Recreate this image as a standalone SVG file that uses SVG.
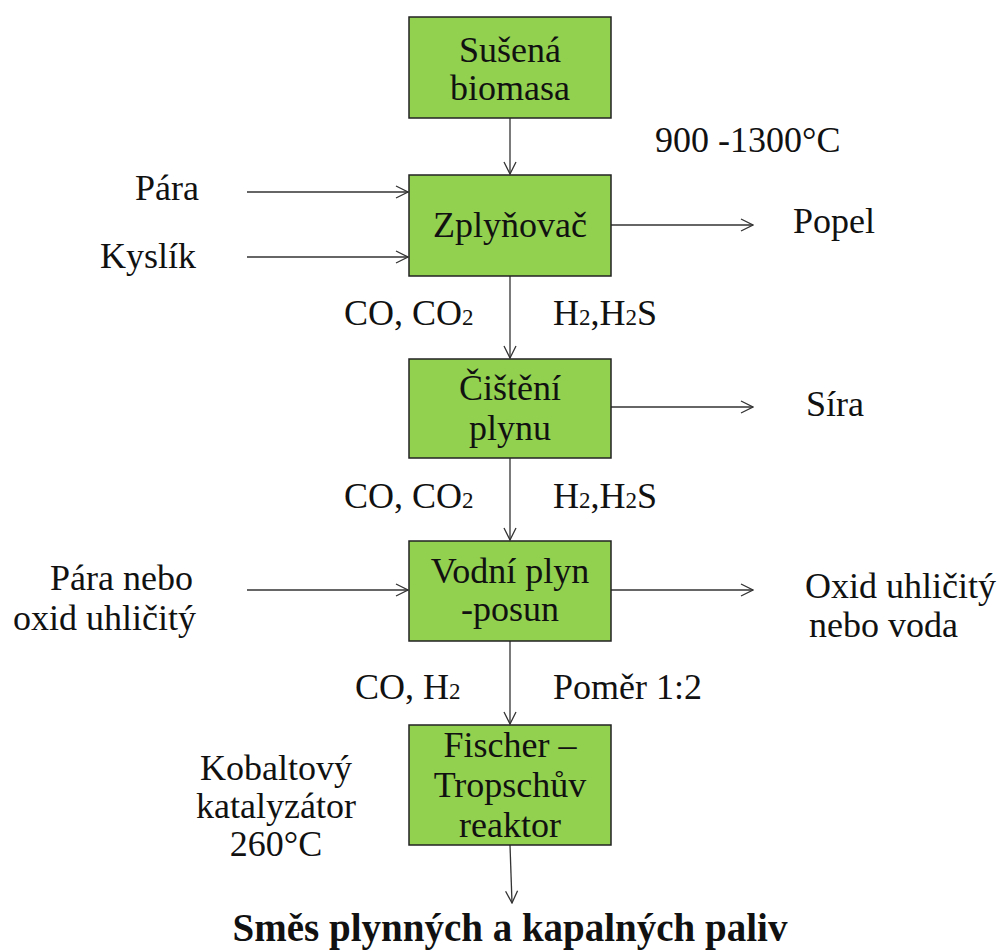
<svg xmlns="http://www.w3.org/2000/svg" width="1002" height="951" viewBox="0 0 1002 951">
<style>
.box{fill:#92d050;stroke:#222;stroke-width:1.5}
.t{font-family:'Liberation Serif','Times New Roman',serif;font-size:36px;fill:#111}
.c{text-anchor:middle}
.sub{font-size:23px}
.b{font-weight:bold;font-size:39px}
.ln{stroke:#333;stroke-width:1.3;fill:none}
</style>
<defs>
<marker id="ah" viewBox="0 0 14 14" refX="13" refY="7" markerWidth="14" markerHeight="14" markerUnits="userSpaceOnUse" orient="auto">
<polyline points="1,1 13,7 1,13" fill="none" stroke="#333" stroke-width="1.3"/>
</marker>
</defs>
<rect width="1002" height="951" fill="#fff"/>
<g id="connectors">
<line class="ln" x1="510" y1="118" x2="510" y2="174" marker-end="url(#ah)"/>
<line class="ln" x1="510" y1="276" x2="510" y2="358" marker-end="url(#ah)"/>
<line class="ln" x1="510" y1="458" x2="510" y2="540" marker-end="url(#ah)"/>
<line class="ln" x1="510" y1="641" x2="510" y2="724" marker-end="url(#ah)"/>
<line class="ln" x1="510" y1="845" x2="512" y2="903" marker-end="url(#ah)"/>
<line class="ln" x1="247" y1="192" x2="408" y2="192" marker-end="url(#ah)"/>
<line class="ln" x1="247" y1="257" x2="408" y2="257" marker-end="url(#ah)"/>
<line class="ln" x1="611" y1="225" x2="753" y2="225" marker-end="url(#ah)"/>
<line class="ln" x1="611" y1="407" x2="753" y2="407" marker-end="url(#ah)"/>
<line class="ln" x1="247" y1="590" x2="408" y2="590" marker-end="url(#ah)"/>
<line class="ln" x1="611" y1="590" x2="753" y2="590" marker-end="url(#ah)"/>
</g>
<g id="n1"><rect class="box" x="409" y="17" width="202" height="101"/>
<text class="t c" x="510" y="62">Sušená</text><text class="t c" x="510" y="100">biomasa</text></g>
<g id="n2"><rect class="box" x="409" y="175" width="202" height="101"/>
<text class="t c" x="510" y="237">Zplyňovač</text></g>
<g id="n3"><rect class="box" x="409" y="359" width="202" height="99"/>
<text class="t c" x="510" y="400">Čištění</text><text class="t c" x="510" y="440">plynu</text></g>
<g id="n4"><rect class="box" x="409" y="541" width="202" height="100"/>
<text class="t c" x="510" y="583">Vodní plyn</text><text class="t c" x="510" y="621">-posun</text></g>
<g id="n5"><rect class="box" x="409" y="725" width="202" height="120"/>
<text class="t c" x="510" y="757">Fischer –</text><text class="t c" x="510" y="797">Tropschův</text><text class="t c" x="510" y="837">reaktor</text></g>
<g id="labels">
<text class="t" x="655" y="152">900 -1300°C</text>
<text class="t" x="135" y="200">Pára</text>
<text class="t" x="100" y="268">Kyslík</text>
<text class="t" x="793" y="233">Popel</text>
<text class="t" x="344" y="325">CO, CO<tspan class="sub">2</tspan></text>
<text class="t" x="553" y="325">H<tspan class="sub">2</tspan>,H<tspan class="sub">2</tspan>S</text>
<text class="t" x="806" y="416">Síra</text>
<text class="t" x="344" y="508">CO, CO<tspan class="sub">2</tspan></text>
<text class="t" x="553" y="508">H<tspan class="sub">2</tspan>,H<tspan class="sub">2</tspan>S</text>
<text class="t" x="50" y="590">Pára nebo</text>
<text class="t" x="13" y="630">oxid uhličitý</text>
<text class="t" x="805" y="598">Oxid uhličitý</text>
<text class="t" x="809" y="637">nebo voda</text>
<text class="t" x="355" y="699">CO, H<tspan class="sub">2</tspan></text>
<text class="t" x="553" y="699">Poměr 1:2</text>
<text class="t c" x="276" y="780">Kobaltový</text>
<text class="t c" x="276" y="818">katalyzátor</text>
<text class="t c" x="276" y="856">260°C</text>
<text class="t b c" x="510" y="941">Směs plynných a kapalných paliv</text>
</g>
</svg>
